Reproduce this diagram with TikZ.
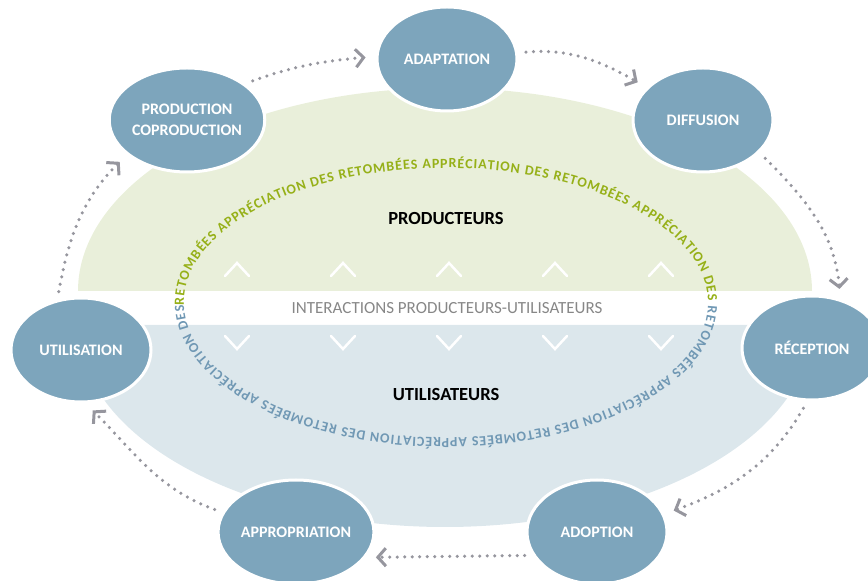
\documentclass[tikz,border=0pt]{standalone}
\usepackage{fontspec}
\setmainfont{Carlito}
\usepackage{tikz}
\usetikzlibrary{positioning}
\usetikzlibrary{arrows.meta,shapes.geometric,decorations.text}
\definecolor{stagefill}{RGB}{125,165,188}
\definecolor{greenbg}{RGB}{233,239,218}
\definecolor{bluebg}{RGB}{220,231,236}
\definecolor{arrowgray}{RGB}{150,150,158}
\definecolor{ringgreen}{RGB}{150,176,24}
\definecolor{ringblue}{RGB}{112,152,180}
\definecolor{bandgray}{RGB}{135,135,135}
\newcommand{\ringfont}{\fontsize{14}{15}\selectfont\bfseries}
\tikzset{line/.style={draw=arrowgray, line width=3.5pt, line cap=round, dash pattern=on 0pt off 7.5pt, -{Straight Barb[length=8pt,width=18pt,line width=3pt]}, shorten <=8pt, shorten >=10pt}}

\begin{document}
\begin{tikzpicture}[x=1pt,y=1pt]
\tikzstyle{stage} = [ellipse, fill=stagefill, draw=white, line width=3pt, minimum width=140pt, minimum height=104pt, inner sep=0pt, text=white, align=center, font=\fontsize{16}{21}\selectfont\bfseries]
\tikzstyle{chev} = [draw=white, line width=2.5pt, line cap=round]
\useasboundingbox (0,0) rectangle (868,581);

% areas
    \fill [greenbg] (78,290) arc[start angle=180, end angle=0, x radius=367pt, y radius=203pt] -- cycle;
    \fill [bluebg] (78,256) arc[start angle=180, end angle=360, x radius=367pt, y radius=202pt] -- cycle;
    \path [decorate, decoration={text along path, text color=ringgreen, text align=fit to path,
        text={|\ringfont|RETOMBÉES APPRÉCIATION DES RETOMBÉES APPRÉCIATION DES RETOMBÉES APPRÉCIATION DES}}]
        (446,278) ++(181:262pt and 135pt) arc[start angle=181, end angle=1, x radius=262pt, y radius=135pt];
    \path [decorate, decoration={text along path, text color=ringblue, text align=fit to path,
        text={|\ringfont|RETOMBÉES APPRÉCIATION DES RETOMBÉES APPRÉCIATION DES RETOMBÉES APPRÉCIATION DES}}]
        (446,278) ++(-1:262pt and 135pt) arc[start angle=-1, end angle=-179, x radius=262pt, y radius=135pt];
    \foreach \x in {237,343,449,555,661} {
        \draw [chev] (\x-12,305) -- (\x,318) -- (\x+12,305);
        \draw [chev] (\x-12,245) -- (\x,232) -- (\x+12,245);
    }
    \node (producers) at (446,362) {\fontsize{18.5}{20}\selectfont\bfseries PRODUCTEURS};
    \node (users) at (446,186) {\fontsize{18.5}{20}\selectfont\bfseries UTILISATEURS};
    \node [text=bandgray] (interact) at (447,273) {\fontsize{17}{19}\selectfont INTERACTIONS PRODUCTEURS-UTILISATEURS};

% stages
    \node [stage] (prod) at (187,461) {PRODUCTION\\COPRODUCTION};
    \node [stage] (adapt) at (447,522) {ADAPTATION};
    \node [stage] (diff) at (703,461) {DIFFUSION};
    \node [stage] (recep) at (812,233) {RÉCEPTION};
    \node [stage] (adopt) at (597,49) {ADOPTION};
    \node [stage] (approp) at (296,49) {APPROPRIATION};
    \node [stage] (util) at (81,231) {UTILISATION};

% arrows
    \path [line] (prod.32) to[out=20, in=185] (adapt.178);
    \path [line] (adapt.5) to[out=5, in=150] (diff.150);
    \path [line] (diff.-30) to[out=-45, in=95] (recep.60);
    \path [line] (recep.-95) to[out=-120, in=20] (adopt.15);
    \path [line] (adopt.200) -- (approp.-20);
    \path [line] (approp.165) to[out=160, in=-45] (util.-85);
    \path [line] (util.115) to[out=80, in=-135] (prod.210);
\end{tikzpicture}
\end{document}
